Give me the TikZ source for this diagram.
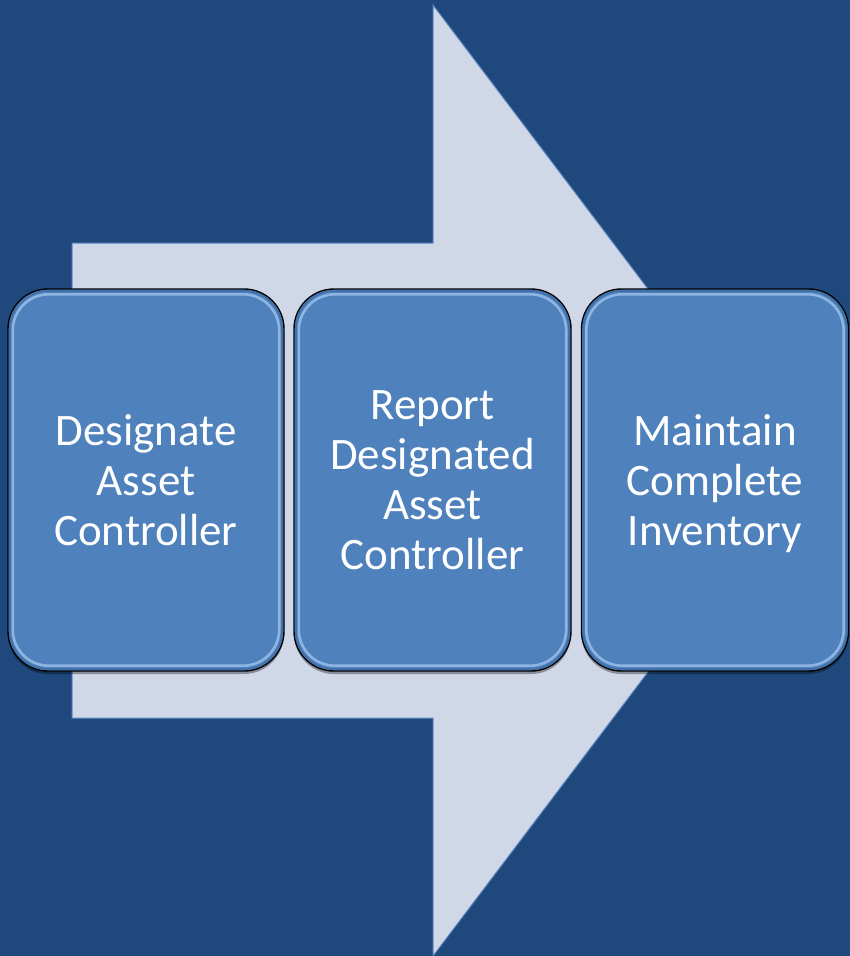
\documentclass[tikz,border=0pt]{standalone}
\usepackage{fontspec}
\setmainfont{Carlito}
\usetikzlibrary{shadows}
\definecolor{bgblue}{HTML}{1F497D}
\definecolor{arrowfill}{HTML}{D0D8E8}
\definecolor{arrowline}{HTML}{5B86BF}
\definecolor{boxfill}{HTML}{4F81BD}
\definecolor{boxhl}{HTML}{A9CBF2}
\definecolor{boxdark}{HTML}{3F6DA6}
\tikzset{
  stepbox/.style={draw=black, line width=1.4pt, fill=boxfill, rounded corners=40pt,
    minimum height=382pt, inner sep=0pt, text=white, align=center, text depth=0pt,
    font=\fontsize{45}{50}\selectfont,
    drop shadow={shadow xshift=0pt, shadow yshift=-3pt, opacity=0.35, fill=black}},
  hlline/.style={draw=boxhl, line width=2.6pt, opacity=0.7, rounded corners=36pt},
  darkline/.style={draw=boxdark, line width=2pt, opacity=0.8, rounded corners=38pt},
}
\begin{document}
\begin{tikzpicture}[x=1pt,y=-1pt]
\fill[bgblue] (0,0) rectangle (850,956);
\useasboundingbox (0,0) rectangle (850,956);
% big arrow
\draw[fill=arrowfill, draw=arrowline, line width=1pt]
  (72,243) -- (433,243) -- (433,5) -- (793,480.5) -- (433,956) -- (433,718) -- (72,718) -- cycle;
% boxes
\node[stepbox, minimum width=276pt] (b1) at (146,480) {Designate\\Asset\\Controller};
\node[stepbox, minimum width=277pt] (b2) at (432.5,480) {Report\\Designated\\Asset\\Controller};
\node[stepbox, minimum width=267pt] (b3) at (715,480) {Maintain\\Complete\\Inventory};
\foreach \n in {b1,b2,b3}{
  \draw[darkline] ([xshift=2.5pt,yshift=-2.5pt]\n.north west) rectangle ([xshift=-2.5pt,yshift=2.5pt]\n.south east);
  \draw[hlline] ([xshift=5.5pt,yshift=-6pt]\n.north west) rectangle ([xshift=-5.5pt,yshift=6pt]\n.south east);
}
\end{tikzpicture}
\end{document}
